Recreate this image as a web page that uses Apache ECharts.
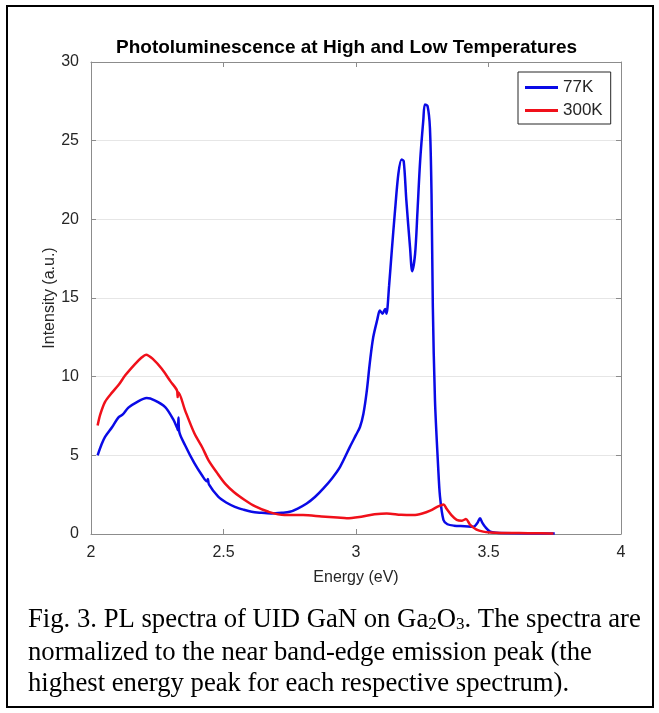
<!DOCTYPE html>
<html>
<head>
<meta charset="utf-8">
<script src="https://cdn.jsdelivr.net/npm/echarts@6/dist/echarts.min.js"></script>
<style>
  html, body { margin: 0; padding: 0; background: #fff; }
  #main { width: 659px; height: 713px; }
</style>
</head>
<body>
<div id="main"></div>
<script>
// 77K spectrum
var energy77 = [2.025, 2.04, 2.053, 2.08, 2.103, 2.12, 2.141, 2.17, 2.21, 2.24, 2.28, 2.31, 2.325, 2.328, 2.33, 2.333,
  2.355, 2.39, 2.42, 2.437, 2.441, 2.445, 2.48, 2.51, 2.543, 2.575, 2.606, 2.64, 2.68, 2.72, 2.75, 2.78, 2.814, 2.845,
  2.877, 2.91, 2.94, 2.977, 3.0, 3.015, 3.028, 3.04, 3.053, 3.065, 3.08, 3.09, 3.1, 3.11, 3.115, 3.125, 3.135, 3.147,
  3.16, 3.172, 3.18, 3.19, 3.204, 3.212, 3.223, 3.232, 3.242, 3.254, 3.26, 3.27, 3.279, 3.285, 3.29, 3.298, 3.31,
  3.317, 3.33, 3.345, 3.37, 3.41, 3.443, 3.458, 3.468, 3.477, 3.487, 3.506, 3.53, 3.6, 3.75];
var intensity77 = [5.0, 5.7, 6.17, 6.8, 7.4, 7.6, 8.03, 8.35, 8.64, 8.5, 8.07, 7.3, 6.75, 6.6, 7.4, 6.5,
  5.64, 4.5, 3.7, 3.35, 3.5, 3.15, 2.37, 2.0, 1.73, 1.55, 1.41, 1.35, 1.31, 1.35, 1.41, 1.62, 1.94, 2.35,
  2.9, 3.55, 4.27, 5.54, 6.3, 6.8, 7.65, 9.0, 11.0, 12.5, 13.6, 14.2, 14.0, 14.3, 14.0, 15.8, 18.0, 20.5,
  22.9, 23.8, 23.7, 21.2, 18.2, 16.7, 17.8, 20.5, 23.7, 26.3, 27.3, 27.2, 25.8, 21.6, 14.4, 8.5, 4.27,
  2.37, 0.89, 0.62, 0.53, 0.5, 0.46, 0.7, 1.0, 0.7, 0.46, 0.15, 0.08, 0.05, 0.03];

// 300K spectrum
var energy300 = [2.025, 2.035, 2.053, 2.08, 2.103, 2.13, 2.166, 2.19, 2.208, 2.235, 2.267, 2.3, 2.325, 2.327, 2.33,
  2.355, 2.39, 2.42, 2.443, 2.475, 2.506, 2.54, 2.58, 2.62, 2.67, 2.73, 2.8, 2.87, 2.93, 2.965, 3.02, 3.07, 3.116,
  3.17, 3.217, 3.25, 3.28, 3.31, 3.33, 3.342, 3.36, 3.38, 3.4, 3.415, 3.43, 3.455, 3.48, 3.506, 3.55, 3.6, 3.65,
  3.7, 3.745];
var intensity300 = [6.9, 7.6, 8.4, 9.0, 9.45, 10.1, 10.8, 11.2, 11.4, 11.1, 10.5, 9.7, 9.1, 8.7, 9.0,
  7.86, 6.4, 5.5, 4.7, 3.9, 3.2, 2.65, 2.16, 1.75, 1.41, 1.2, 1.2, 1.12, 1.05, 1.0, 1.1, 1.25, 1.31,
  1.22, 1.2, 1.3, 1.48, 1.75, 1.88, 1.6, 1.2, 0.9, 0.85, 0.95, 0.6, 0.28, 0.15, 0.1, 0.07, 0.06, 0.05,
  0.05, 0.03];

var seriesNames = ['77K', '300K'];
var xTicks = [2, 2.5, 3, 3.5, 4];
var yTicks = [0, 5, 10, 15, 20, 25, 30];

function pairs(xs, ys) {
  return xs.map(function (x, i) { return [x, ys[i]]; });
}

var dom = document.getElementById('main');
var myChart = echarts.init(dom);

var axisGray = '#8c8c8c';
var textGray = '#262626';
var font = 'Arial, "Liberation Sans", sans-serif';
var serif = '"Liberation Serif", "Times New Roman", serif';

var option = {
  animation: false,
  backgroundColor: '#fff',
  title: {
    text: 'Photoluminescence at High and Low Temperatures',
    left: 111,
    top: 33,
    textStyle: { fontFamily: font, fontSize: 19, fontWeight: 'bold', color: '#000' }
  },
  legend: {
    orient: 'vertical',
    left: 518,
    top: 72,
    padding: [7, 8, 5, 7],
    itemWidth: 33,
    itemHeight: 3,
    itemGap: 6,
    icon: 'rect',
    backgroundColor: '#fff',
    borderColor: textGray,
    borderWidth: 1,
    borderRadius: 0,
    textStyle: { fontFamily: font, fontSize: 17, color: textGray, lineHeight: 17 },
    data: seriesNames
  },
  grid: { left: 91, top: 62, width: 530, height: 472 },
  xAxis: [
    {
      type: 'value', min: xTicks[0], max: xTicks[xTicks.length - 1], interval: 0.5,
      name: 'Energy (eV)', nameLocation: 'middle', nameGap: 36, nameMoveOverlap: false,
      nameTextStyle: { fontFamily: font, fontSize: 16, color: textGray },
      axisLine: { show: true, onZero: false, lineStyle: { color: axisGray, width: 1 } },
      axisTick: { show: true, inside: true, length: 5, lineStyle: { color: axisGray } },
      axisLabel: { fontFamily: font, fontSize: 16, color: textGray, margin: 11 },
      splitLine: { show: false }
    },
    {
      type: 'value', position: 'top', min: xTicks[0], max: xTicks[xTicks.length - 1], interval: 0.5,
      axisLine: { show: true, onZero: false, lineStyle: { color: axisGray, width: 1 } },
      axisTick: { show: true, inside: true, length: 5, lineStyle: { color: axisGray } },
      axisLabel: { show: false },
      splitLine: { show: false }
    }
  ],
  yAxis: [
    {
      type: 'value', min: yTicks[0], max: yTicks[yTicks.length - 1], interval: 5,
      name: 'Intensity (a.u.)', nameLocation: 'middle', nameGap: 33, nameMoveOverlap: false,
      nameTextStyle: { fontFamily: font, fontSize: 16, color: textGray },
      axisLine: { show: true, onZero: false, lineStyle: { color: axisGray, width: 1 } },
      axisTick: { show: true, inside: true, length: 5, lineStyle: { color: axisGray } },
      axisLabel: { fontFamily: font, fontSize: 16, color: textGray, margin: 12 },
      splitLine: { show: true, lineStyle: { color: '#e6e6e6', width: 1 } }
    },
    {
      type: 'value', position: 'right', min: yTicks[0], max: yTicks[yTicks.length - 1], interval: 5,
      axisLine: { show: true, onZero: false, lineStyle: { color: axisGray, width: 1 } },
      axisTick: { show: true, inside: true, length: 5, lineStyle: { color: axisGray } },
      axisLabel: { show: false },
      splitLine: { show: false }
    }
  ],
  series: [
    {
      name: seriesNames[0],
      type: 'line',
      symbol: 'none',
      smooth: 0.3,
      color: '#0a0ae6',
      lineStyle: { width: 2.5, color: '#0a0ae6' },
      data: pairs(energy77, intensity77),
      z: 3
    },
    {
      name: seriesNames[1],
      type: 'line',
      symbol: 'none',
      smooth: 0.3,
      color: '#f0101a',
      lineStyle: { width: 2.5, color: '#f0101a' },
      data: pairs(energy300, intensity300),
      z: 4
    }
  ],
  graphic: [
    {
      type: 'rect',
      shape: { x: 7, y: 6, width: 646, height: 701 },
      style: { fill: 'none', stroke: '#000', lineWidth: 2 },
      silent: true
    },
    {
      type: 'text', left: 28, top: 606,
      style: {
        text: 'Fig. 3. PL spectra of UID GaN on Ga{s|2}O{s|3}. The spectra are',
        font: '26.7px ' + serif, fill: '#000',
        rich: { s: { fontSize: 17, fontFamily: serif, verticalAlign: 'bottom', padding: [10, 0, 0, 0] } }
      }
    },
    {
      type: 'text', left: 28, top: 639,
      style: { text: 'normalized to the near band-edge emission peak (the', font: '26.7px ' + serif, fill: '#000' }
    },
    {
      type: 'text', left: 28, top: 670,
      style: { text: 'highest energy peak for each respective spectrum).', font: '26.7px ' + serif, fill: '#000' }
    }
  ]
};

if (option && typeof option === 'object') {
  myChart.setOption(option);
}

window.addEventListener('resize', myChart.resize);
</script>
</body>
</html>
